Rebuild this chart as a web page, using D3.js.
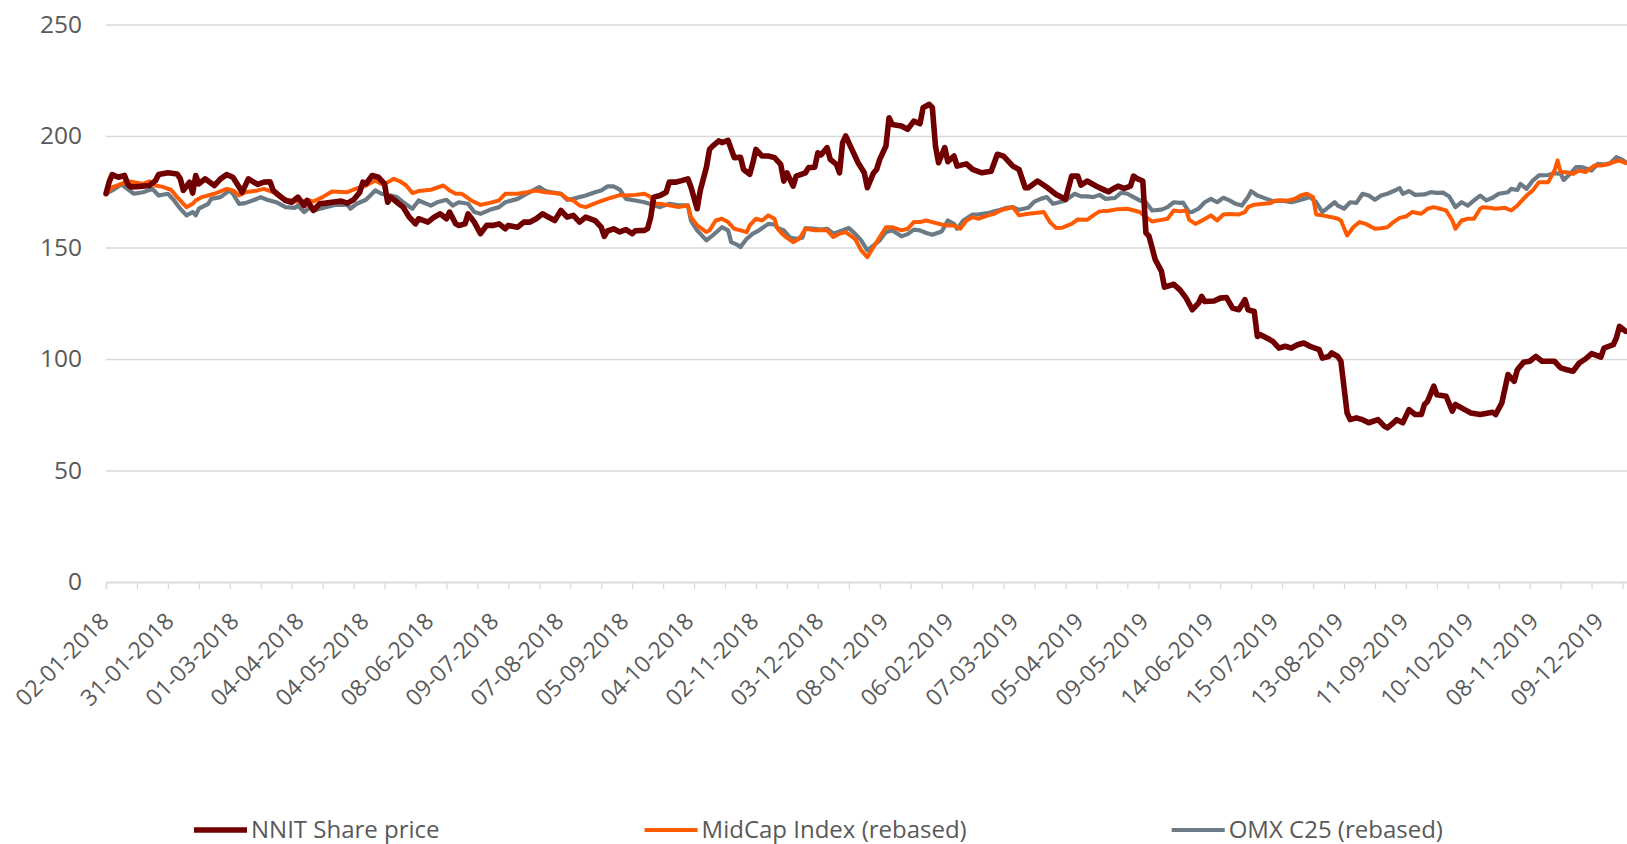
<!DOCTYPE html>
<html>
<head>
<meta charset="utf-8">
<script src="https://cdn.jsdelivr.net/npm/d3@7"></script>
<style>
  body { margin: 0; background: #fff; }
  svg { display: block; font-family: 'Open Sans', sans-serif; }
</style>
</head>
<body>
<svg id="chart"></svg>
<script>
// trading-day labels, one every 21 trading days starting 02-01-2018
const xLabels = ['02-01-2018', '31-01-2018', '01-03-2018', '04-04-2018', '04-05-2018', '08-06-2018',
  '09-07-2018', '07-08-2018', '05-09-2018', '04-10-2018', '02-11-2018', '03-12-2018',
  '08-01-2019', '06-02-2019', '07-03-2019', '05-04-2019', '09-05-2019', '14-06-2019',
  '15-07-2019', '13-08-2019', '11-09-2019', '10-10-2019', '08-11-2019', '09-12-2019'];
const yTicks = [0, 50, 100, 150, 200, 250];
const seriesNames = ['NNIT Share price', 'MidCap Index (rebased)', 'OMX C25 (rebased)'];

// [trading day index, value]
const nnit = [[0,174.1],[1,179.3],[2,182.7],[4,181.5],[6,182.3],[7,178.5],[8,177.1],[11,177.4],[14,177.8],[16,180],[17,182.7],[20,183.5],[23,183],[24,180.8],[25,175.6],[27,179.3],[28,174.4],[29,182.3],[30,178.5],[32,180.8],[35,177.8],[37,180.8],[39,182.7],[41,181.5],[43,177.1],[44,174.8],[46,180.8],[49,178.3],[51,179.3],[53,179.5],[54,175.6],[56,173.3],[58,171.1],[60,170.3],[62,172.6],[64,168.8],[65,171.1],[67,166.6],[69,169.6],[71,169.9],[73,170.3],[76,170.8],[78,169.9],[80,171.4],[82,174.8],[83,179.3],[84,178.5],[86,182.3],[88,181.5],[90,178.5],[91,170.3],[92,172.6],[94,170.3],[96,168.1],[98,163.6],[100,160.6],[101,162.9],[104,161.4],[106,163.6],[108,165.1],[110,162.9],[111,165.9],[113,160.6],[114,159.9],[116,160.6],[117,165.1],[119,161.4],[121,156.2],[123,159.9],[125,159.9],[127,160.6],[129,158.4],[130,159.9],[133,159.1],[135,161.4],[137,161.4],[139,162.9],[141,165.1],[143,163.6],[145,162.1],[147,166.6],[149,163.6],[151,164.4],[153,161.4],[155,163.6],[158,162.1],[160,159.1],[161,155],[162,157.4],[164,158.4],[166,157],[168,158],[170,156.2],[171,157.5],[174,157.7],[175,158.5],[176,163.6],[177,172.6],[179,173.3],[181,174.8],[182,179.3],[184,179.3],[186,180],[188,180.8],[189,177.1],[191,167.4],[192,175.6],[194,186],[195,194],[196,195.5],[198,197.8],[199,197],[201,198],[203,190.3],[205,190.5],[206,185],[208,182.8],[209,188],[210,194],[212,191],[214,191],[216,190.3],[218,187.3],[219,179.8],[220,183.5],[222,177.5],[223,182],[226,183.5],[227,185.8],[229,186],[230,192.5],[231,191.5],[233,194.8],[234,189.5],[236,187.3],[237,183.5],[238,197],[239,200],[241,194],[243,188],[245,183.5],[246,176.8],[248,183.5],[249,185],[250,189.5],[252,195.5],[253,208.2],[254,205.2],[257,204.5],[259,203],[261,206.7],[263,205.5],[264,212.7],[266,214.2],[267,212.7],[268,195.5],[269,188],[271,194.8],[272,188.5],[274,191],[275,186.5],[278,187.5],[280,185],[283,183.5],[286,184.2],[288,191.8],[290,191],[293,186.5],[295,185],[297,176.8],[298,176.8],[301,179.8],[304,177],[307,173.8],[310,171.6],[312,182],[314,182],[315,178],[317,179.8],[320,177.5],[323,175.5],[324,175],[325,176],[327,177.5],[329,176.5],[331,177.5],[332,182],[333,181],[335,179.8],[336,156.6],[337,155.1],[339,144.6],[341,139.4],[342,132.2],[345,133.5],[347,131],[349,127.3],[351,122.1],[353,125.1],[354,128.1],[355,125.8],[358,126],[360,127.3],[362,127.6],[364,122.8],[366,122.1],[368,126.6],[369,122.1],[371,121.3],[372,110.1],[373,110.9],[376,108.7],[377,107.9],[379,104.9],[381,105.7],[383,104.9],[385,106.4],[387,107.2],[389,105.7],[392,104.2],[393,100.4],[395,101.1],[396,102.7],[398,101.1],[399,99],[401,75.8],[402,72.8],[404,73.6],[406,72.8],[408,71.4],[411,72.8],[413,69.9],[414,69.1],[416,71.4],[417,72.8],[419,71.4],[421,77.3],[423,75.1],[425,75.1],[426,79.6],[427,81],[429,87.8],[430,84],[433,83.3],[435,76.6],[436,79.6],[439,77.3],[441,75.8],[444,75.1],[448,76.1],[449,75.1],[451,80.3],[453,93],[455,90],[456,95.2],[458,98.5],[460,99],[462,101.2],[464,99],[466,99],[468,99],[470,96],[472,95.2],[474,94.5],[476,98.2],[478,100],[480,102.4],[483,100.9],[484,104.9],[487,106.4],[488,109.4],[489,114.6],[491,112.4]];

const midcap = [[0,174.1],[2,177],[7,179.7],[9,179.3],[12,178.5],[14,179.7],[16,177.8],[18,177.3],[21,175.9],[23,172.6],[26,168.1],[28,169.6],[29,171.1],[31,172.6],[35,174.1],[39,176.3],[41,175.6],[43,173.3],[45,174.8],[49,175.6],[51,176.3],[54,174.8],[57,171.8],[60,171.1],[63,170.3],[65,171.4],[67,170.6],[70,172.6],[73,175.1],[78,174.8],[80,176],[84,177.8],[87,180],[89,178.5],[91,179.2],[93,180.8],[95,179.7],[97,177.8],[99,174.4],[101,175.3],[105,175.9],[109,177.8],[111,175.6],[113,174.1],[115,174.1],[118,171.1],[121,169.1],[124,170],[127,171.1],[129,174.1],[133,174.1],[136,174.8],[139,175.6],[142,174.8],[147,174.1],[149,171.8],[151,171.1],[153,168.8],[155,168.1],[159,170.3],[162,171.8],[166,173.5],[168,173.3],[171,173.6],[174,174.1],[176,172.6],[177,169.6],[179,169.6],[182,168.9],[185,168.1],[188,168.9],[189,163.6],[191,159.9],[194,156.9],[195,157.7],[197,162.1],[199,162.9],[201,161.4],[203,158.4],[205,157.7],[207,156.9],[208,159.9],[210,162.9],[212,162.1],[214,164.4],[216,162.9],[217,158.4],[219,155.4],[222,152.4],[224,153.9],[226,158.4],[229,157.7],[231,157.7],[233,157.7],[235,154.7],[237,156.2],[239,156.9],[242,153.9],[244,148.7],[246,145.7],[248,150.2],[250,154.7],[252,159.1],[254,159.1],[257,157.7],[259,158.4],[261,161.4],[263,161.4],[265,162.1],[267,161.4],[270,160.3],[272,159.9],[274,159.9],[276,158.4],[278,162.1],[280,163.6],[282,162.9],[285,164.4],[287,165.1],[289,166.6],[291,167.4],[293,168.1],[295,164.4],[298,165.1],[301,165.6],[303,165.9],[305,161.4],[307,158.7],[309,158.9],[312,160.6],[314,162.6],[317,162.4],[319,164.4],[321,166.2],[324,166.5],[327,167.2],[330,167.4],[334,165.9],[336,163.6],[338,161.7],[341,162.4],[343,162.9],[345,166.6],[347,166.2],[349,166.6],[350,162.4],[352,160.6],[354,162],[356,163.6],[357,164.4],[359,162.1],[361,164.8],[363,165],[366,164.8],[368,165.9],[369,168.1],[371,169.2],[374,169.6],[376,169.8],[378,171.1],[382,171.1],[384,171.8],[386,173.3],[388,174.1],[390,172.6],[391,164.8],[393,164.4],[396,163.6],[398,162.9],[399,162.1],[401,155.4],[403,159.1],[405,161.4],[407,160.6],[410,158.4],[412,158.6],[414,159.1],[416,161.4],[418,163.3],[420,163.9],[422,165.9],[425,165.1],[427,167.4],[429,168.1],[431,167.4],[433,166.6],[435,162.1],[436,158.4],[438,162.1],[440,162.9],[442,162.9],[444,167.4],[445,168.1],[447,167.8],[449,167.4],[452,167.8],[454,166.6],[456,168.8],[457,170.3],[459,173.3],[461,175.6],[463,179.3],[466,179.3],[468,184.5],[469,189],[470,183.8],[472,183.8],[474,183],[476,184.5],[478,183.8],[481,186.8],[483,186.8],[485,187.2],[487,188.3],[489,189],[491,187.8]];

const omx = [[0,174.1],[2,175.6],[5,178.3],[9,174.1],[12,174.8],[15,176.3],[17,173.3],[20,174.1],[22,171.1],[24,167.4],[26,164.4],[28,165.9],[29,164.4],[30,167.4],[33,169.6],[34,171.8],[37,172.6],[40,175.6],[41,174.1],[43,169.6],[45,169.9],[48,171.4],[50,172.6],[52,171.4],[55,170.3],[58,168.1],[61,167.8],[62,168.8],[64,165.9],[66,168.1],[68,166.9],[71,168.1],[74,169.1],[78,169.1],[79,167.4],[81,169.6],[84,171.4],[87,175.6],[89,174.1],[92,173.3],[94,172.6],[96,170.3],[99,167.4],[101,171.1],[105,168.8],[107,170.3],[110,171.4],[112,168.8],[114,170.3],[117,169.6],[119,165.9],[121,165.1],[124,166.9],[127,168.1],[129,170.3],[133,171.8],[136,174.1],[138,175.6],[140,177.1],[142,175.3],[144,174.8],[147,174.1],[149,171.4],[151,171.8],[153,172.6],[155,173.3],[158,174.8],[160,175.6],[162,177.4],[164,177.4],[166,176],[168,171.8],[171,171.1],[174,170.3],[177,168.9],[179,168.1],[182,169.6],[185,168.9],[188,168.9],[189,162.1],[191,157.7],[194,153.2],[196,155.4],[199,159.1],[201,157.7],[202,152.4],[204,151.2],[205,150.2],[207,153.9],[209,156.2],[211,157.7],[214,160.6],[216,160.3],[217,158.8],[219,157.7],[221,154.4],[223,153.9],[225,154.4],[226,158.7],[229,158.4],[231,158],[233,158.4],[235,156.2],[237,157.2],[240,158.7],[242,156.2],[244,153.2],[246,148.7],[248,151],[250,153.2],[252,156.9],[254,157.7],[257,155],[259,156],[261,158],[263,157.7],[265,156.5],[267,155.7],[270,157.2],[272,162.1],[274,160.6],[275,158.4],[277,162.1],[280,164.8],[282,164.9],[285,165.4],[287,166.2],[289,166.9],[291,167.8],[293,168.1],[295,166.9],[298,167.8],[300,170.6],[302,171.8],[304,172.6],[306,169.6],[308,170.3],[310,171.1],[313,174.1],[315,172.9],[317,172.9],[319,172.6],[321,173.6],[323,171.8],[326,172.2],[328,174.6],[330,174.1],[332,172.6],[334,171.1],[336,170.3],[338,166.6],[341,167],[343,168.1],[345,170.3],[347,170],[348,170.1],[350,165.9],[351,166],[353,167.4],[355,170.3],[357,171.8],[359,170.3],[361,172.3],[363,171.1],[365,169.6],[367,168.8],[369,172.6],[370,175.3],[372,173.3],[375,171.8],[377,170.8],[380,171],[383,170.3],[385,171],[387,171.8],[389,172.6],[391,170.3],[393,165.9],[395,168.1],[397,170.3],[398,168.8],[400,167.4],[402,170.3],[404,170],[406,174.1],[408,173.3],[410,171.4],[412,173.3],[414,174.1],[417,175.9],[418,176.6],[419,174.1],[421,175.3],[423,173.6],[426,173.8],[428,174.8],[430,174.5],[432,174.6],[434,172.9],[436,168.1],[438,170.3],[440,168.8],[442,171.1],[444,173.3],[446,171.1],[448,172.3],[450,174.1],[453,174.8],[454,176.3],[456,175.8],[457,178.5],[459,176.3],[461,180],[463,182.3],[466,182.5],[468,183.3],[470,183],[471,180.3],[473,183],[475,186],[477,186],[480,184.5],[482,187.5],[484,187.2],[486,187.8],[488,190.5],[490,189.3],[491,188.3]];

const width = 1627;
const height = 844;

const dim = {
  left: 106,
  dayWidth: 3.095,
  noOfDays: 500,
  zeroY: 582,
  topY: 24.5,
  labelEvery: 21,
  tickEvery: 10,
  tickSize: 7,
};

const styles = [
  { colour: '#700000', width: 5.6 },
  { colour: '#ff5a00', width: 4 },
  { colour: '#6c7a86', width: 4.2 },
];

const svg = d3.select('#chart').attr('width', width).attr('height', height);
svg.append('rect').attr('width', width).attr('height', height).attr('fill', '#fff');

const x = d3.scaleLinear()
  .domain([0, dim.noOfDays])
  .range([dim.left, dim.left + dim.noOfDays * dim.dayWidth]);
const y = d3.scaleLinear().domain([0, 250]).range([dim.zeroY, dim.topY]);

// gridlines + y labels
const yAxis = svg.append('g')
  .attr('transform', `translate(${dim.left}, 0)`)
  .call(d3.axisLeft(y).tickValues(yTicks).tickSize(-(width - dim.left)).tickPadding(24));
yAxis.select('.domain').remove();
yAxis.selectAll('.tick line').attr('stroke', '#d9d9d9').attr('stroke-width', 1.3);
yAxis.selectAll('.tick text')
  .attr('fill', '#595959')
  .style('font-size', '24.5px')
  .style('font-family', "'Open Sans', sans-serif");

// x axis tick marks
const tickAxis = svg.append('g')
  .attr('transform', `translate(0, ${dim.zeroY})`)
  .call(d3.axisBottom(x)
    .tickValues(d3.range(0, dim.noOfDays + 1, dim.tickEvery))
    .tickSize(dim.tickSize)
    .tickFormat(''));
tickAxis.select('.domain').attr('stroke', '#d9d9d9').attr('stroke-width', 1.3);
tickAxis.selectAll('.tick line').attr('stroke', '#d9d9d9').attr('stroke-width', 1.3);

// x labels, rotated
const labelAxis = svg.append('g')
  .attr('transform', `translate(0, ${dim.zeroY})`)
  .call(d3.axisBottom(x)
    .tickValues(xLabels.map((d, i) => i * dim.labelEvery))
    .tickSize(0)
    .tickFormat((d, i) => xLabels[i]));
labelAxis.select('.domain').remove();
labelAxis.selectAll('.tick text')
  .attr('fill', '#595959')
  .style('font-size', '23px')
  .style('font-family', "'Open Sans', sans-serif")
  .attr('text-anchor', 'end')
  .attr('dy', '0.35em')
  .attr('y', 0)
  .attr('transform', 'translate(-2, 35) rotate(-45)');

// series lines
const line = d3.line()
  .x(d => x(d[0]))
  .y(d => y(d[1]));

[omx, midcap, nnit].forEach((series, k) => {
  const s = styles[2 - k];
  svg.append('path')
    .datum(series)
    .attr('fill', 'none')
    .attr('stroke', s.colour)
    .attr('stroke-width', s.width)
    .attr('stroke-linejoin', 'round')
    .attr('stroke-linecap', 'round')
    .attr('d', line);
});

// legend, items separated by an equal gap
const legend = svg.append('g').attr('transform', 'translate(194, 830)');
let cursor = 0;
seriesNames.forEach((name, i) => {
  const item = legend.append('g').attr('transform', `translate(${cursor}, 0)`);
  item.append('line')
    .attr('x1', 0).attr('x2', 53)
    .attr('stroke', styles[i].colour)
    .attr('stroke-width', styles[i].width);
  const text = item.append('text')
    .attr('x', 57)
    .attr('dy', '0.35em')
    .attr('fill', '#595959')
    .style('font-size', '24px')
    .text(name);
  cursor += 57 + text.node().getComputedTextLength() + 205;
});
</script>
</body>
</html>
